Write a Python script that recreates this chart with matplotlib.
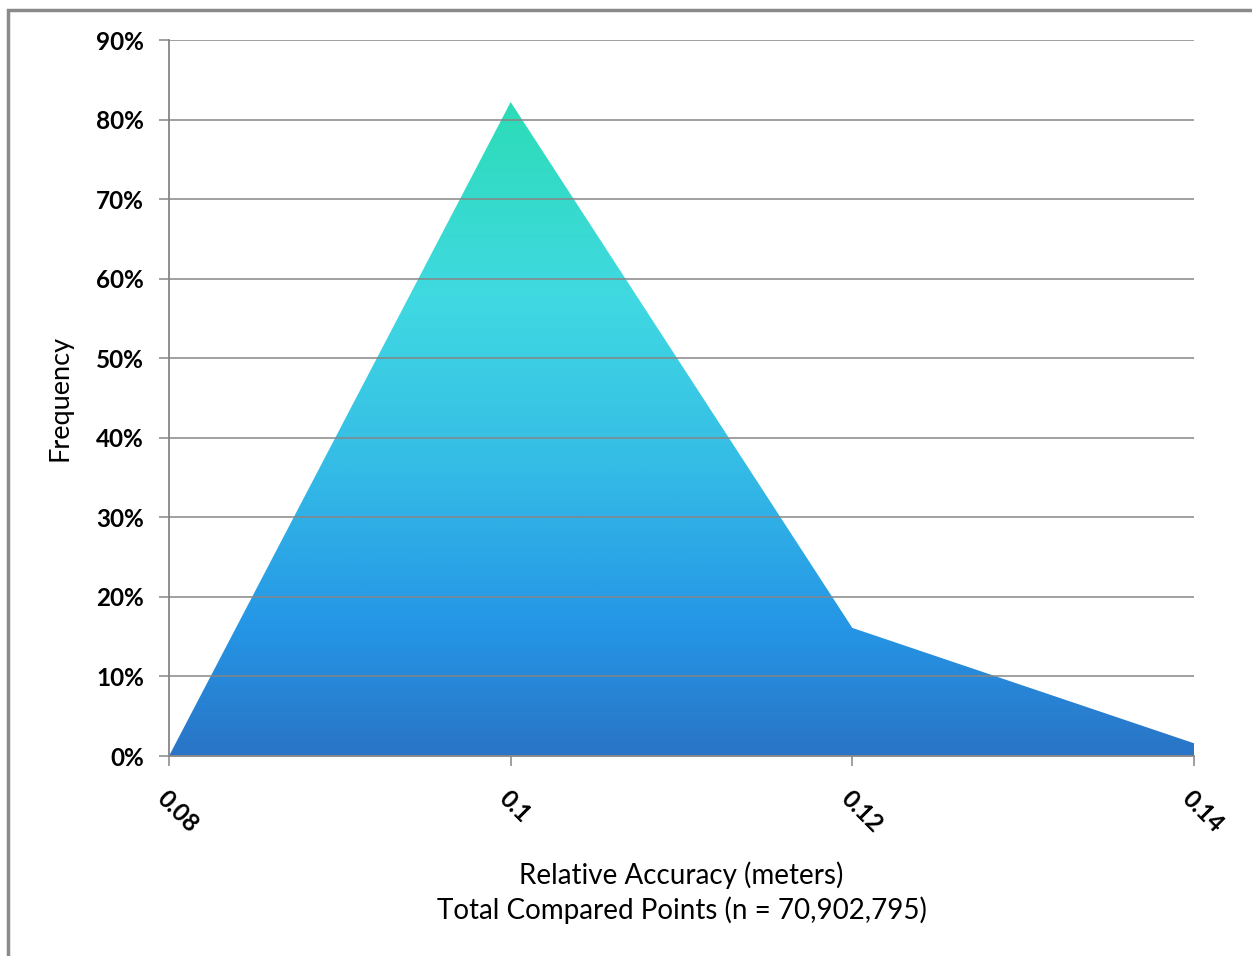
import numpy as np
import matplotlib.pyplot as plt
from matplotlib.colors import LinearSegmentedColormap
from matplotlib.patches import Polygon, Rectangle
from matplotlib.ticker import FuncFormatter

accuracy = [0.08, 0.10, 0.12, 0.14]
frequency = [0.0, 82.2, 16.1, 1.6]
tick_labels = ['0.08', '0.1', '0.12', '0.14']

plt.rcParams['font.family'] = ['Lato', 'DejaVu Sans']
grid_col = '#868686'

fig = plt.figure(figsize=(12.52, 9.56), dpi=100)
ax = fig.add_axes([169/1252, 1 - 756/956, (1194 - 169)/1252, (756 - 40)/956])

# gradient fill clipped to the area outline
cmap = LinearSegmentedColormap.from_list('area', [
    (0.0, '#2a74c6'), (0.2, '#2596e6'), (0.45, '#35bde6'),
    (0.7, '#40d9e2'), (1.0, '#2cdcb6')])
grad = np.linspace(0, 1, 256).reshape(-1, 1)
img = ax.imshow(grad, cmap=cmap, origin='lower', aspect='auto',
                extent=[accuracy[0], accuracy[-1], 0, max(frequency)], zorder=1)
verts = [(accuracy[0], 0)] + list(zip(accuracy, frequency)) + [(accuracy[-1], 0)]
poly = Polygon(verts, closed=True, facecolor='none', edgecolor='none')
ax.add_patch(poly)
img.set_clip_path(poly)

ax.set_xlim(accuracy[0], accuracy[-1])
ax.set_ylim(0, 90)
ax.set_yticks(np.arange(0, 91, 10))
ax.yaxis.set_major_formatter(FuncFormatter(lambda v, p: f'{v:.0f}%'))
ax.set_xticks(accuracy)
ax.set_xticklabels(tick_labels, rotation=-45, ha='left', va='top', rotation_mode='anchor')
ax.grid(axis='y', color=grid_col, linewidth=1.1, zorder=2)
ax.set_axisbelow(False)

for s in ['top', 'right']:
    ax.spines[s].set_visible(False)
for s in ['left', 'bottom']:
    ax.spines[s].set_color(grid_col)
    ax.spines[s].set_linewidth(1.3)
    ax.spines[s].set_zorder(3)
ax.tick_params(axis='both', color=grid_col, length=7, width=1.1, labelsize=17.5)
ax.tick_params(axis='y', pad=11)
ax.tick_params(axis='x', pad=15)
for lab in ax.get_xticklabels() + ax.get_yticklabels():
    lab.set_fontweight('bold')

ax.set_ylabel('Frequency', fontsize=19.5, labelpad=17)
ax.set_xlabel('Relative Accuracy (meters)\nTotal Compared Points (n = 70,902,795)',
              fontsize=20, labelpad=18, linespacing=1.3)

# outer chart border
fig.patches.append(Rectangle((8/1252, -0.05), 1.2, 1 - 10/956 + 0.05, transform=fig.transFigure,
                             fill=False, edgecolor='#8a8a8a', linewidth=2.5))

fig.savefig('out.png', dpi=100)
